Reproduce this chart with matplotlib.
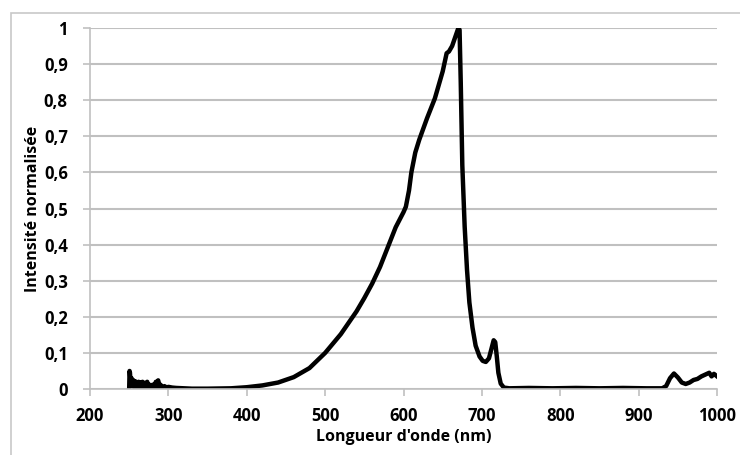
import matplotlib
matplotlib.use("Agg")
import matplotlib.pyplot as plt
from matplotlib.patches import Rectangle

plt.rcParams['font.family'] = ['Open Sans', 'DejaVu Sans']

# spectrum (wavelength in nm, normalised intensity)
wavelength = [250, 250.5, 251, 252, 253, 254, 255, 256, 257, 258, 259, 260,
              262, 263, 264, 266, 267, 268, 270, 271, 273, 274, 276, 278,
              280, 282, 284, 285, 287, 288, 290, 292, 295, 298, 300, 305,
              310, 320, 330, 350, 380, 400, 420, 440, 460, 480, 500, 520,
              540, 550, 560, 570, 580, 590, 600, 603, 607, 610, 615, 620, 630,
              640, 650, 655, 658, 662, 666, 670, 671.5, 673, 675, 678, 681,
              684, 688, 692, 697, 701, 705, 709, 712, 715, 717, 719, 721,
              724, 728, 735, 760, 790, 820, 850, 880, 910, 930, 935, 940,
              945, 950, 955, 960, 965, 970, 975, 980, 985, 990, 993, 996, 1000]
intensity = [0.0, 0.05, 0.045, 0.01, 0.03, 0.008, 0.025, 0.006, 0.022, 0.005, 0.02, 0.004,
             0.02, 0.004, 0.018, 0.004, 0.02, 0.004, 0.017, 0.004, 0.02, 0.003, 0.012, 0.003,
             0.012, 0.003, 0.02, 0.004, 0.024, 0.004, 0.012, 0.004, 0.008, 0.004, 0.006, 0.004,
             0.003, 0.002, 0.001, 0.001, 0.002, 0.005, 0.010, 0.018, 0.033, 0.058, 0.1, 0.152,
             0.215, 0.252, 0.292, 0.338, 0.393, 0.448, 0.49, 0.505, 0.55, 0.6, 0.655, 0.69, 0.75,
             0.805, 0.88, 0.93, 0.935, 0.95, 0.975, 1.0, 0.995, 0.85, 0.62, 0.45, 0.33,
             0.24, 0.17, 0.12, 0.09, 0.078, 0.075, 0.085, 0.11, 0.135, 0.13, 0.09, 0.045,
             0.015, 0.004, 0.002, 0.003, 0.002, 0.003, 0.002, 0.003, 0.002, 0.002, 0.008, 0.03,
             0.043, 0.032, 0.018, 0.014, 0.018, 0.025, 0.028, 0.035, 0.04, 0.045, 0.035, 0.042, 0.035]

x_ticks = [200, 300, 400, 500, 600, 700, 800, 900, 1000]
y_ticks = [0, 0.1, 0.2, 0.3, 0.4, 0.5, 0.6, 0.7, 0.8, 0.9, 1]
y_labels = ['0', '0,1', '0,2', '0,3', '0,4', '0,5', '0,6', '0,7', '0,8', '0,9', '1']

grid_col = '#c0c0c0'

fig = plt.figure(figsize=(7.4, 4.55), dpi=100)
ax = fig.add_axes([0.1216, 0.145, 0.8474, 0.7935])

# outer chart frame (partly cropped in the original)
fig.patches.append(Rectangle((11 / 740, -0.05), 1.2, 1 - 13 / 455 + 0.05,
                             transform=fig.transFigure, fill=False,
                             edgecolor='#c8c8c8', lw=1.2))

ax.plot(wavelength, intensity, color='black', lw=3.2, solid_joinstyle='round')

ax.set_xlim(200, 1000)
ax.set_ylim(0, 1)
ax.set_xticks(x_ticks)
ax.set_yticks(y_ticks)
ax.set_yticklabels(y_labels)
ax.yaxis.grid(True, color=grid_col, lw=1.5)
ax.set_axisbelow(True)

for s in ['top', 'right']:
    ax.spines[s].set_visible(False)
for s in ['left', 'bottom']:
    ax.spines[s].set_color(grid_col)
    ax.spines[s].set_linewidth(1.2)

ax.tick_params(axis='both', colors=grid_col, length=5, width=1.2,
               labelcolor='black', labelsize=12)
ax.tick_params(axis='y', pad=11)
ax.tick_params(axis='x', pad=8)
for lab in ax.get_xticklabels() + ax.get_yticklabels():
    lab.set_fontweight('bold')

ax.set_xlabel("Longueur d'onde (nm)", fontsize=11.5, fontweight='bold', labelpad=3)
ax.set_ylabel("Intensité normalisée", fontsize=11.5, fontweight='bold', labelpad=2)

fig.savefig('out.png', dpi=100)
